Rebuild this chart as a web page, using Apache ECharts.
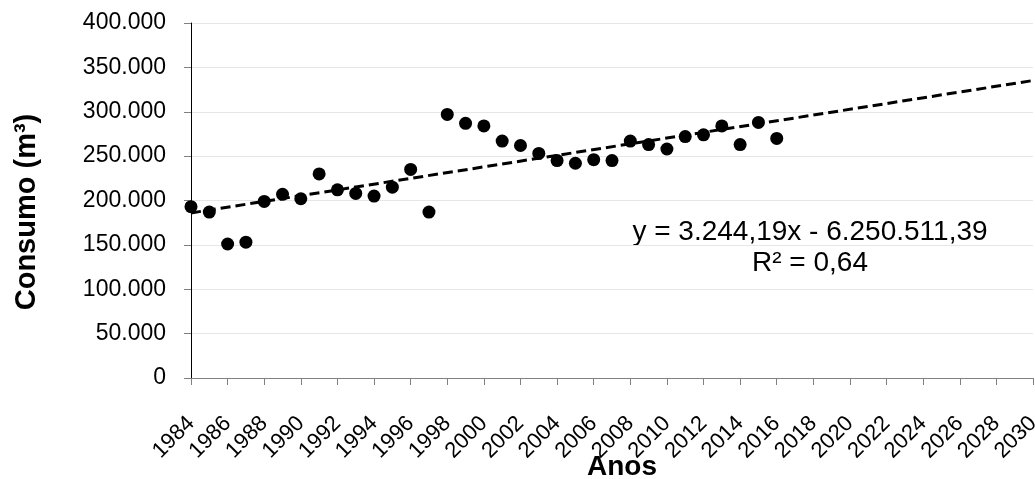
<!DOCTYPE html>
<html>
<head>
<meta charset="utf-8">
<script src="https://cdn.jsdelivr.net/npm/echarts@6/dist/echarts.min.js"></script>
<style>
  html, body { margin: 0; padding: 0; background: #fff; }
  #chart { width: 1035px; height: 479px; }
</style>
</head>
<body>
<div id="chart"></div>
<script>
// anos e consumo (m³)
var anos = [1984, 1985, 1986, 1987, 1988, 1989, 1990, 1991, 1992, 1993, 1994,
  1995, 1996, 1997, 1998, 1999, 2000, 2001, 2002, 2003, 2004, 2005, 2006,
  2007, 2008, 2009, 2010, 2011, 2012, 2013, 2014, 2015, 2016];
var consumo = [193000, 187000, 151000, 153000, 199000, 207000, 202000, 230000,
  212000, 208000, 205000, 215000, 235000, 187000, 297000, 287000, 284000,
  267000, 262000, 253000, 245000, 242000, 246000, 245000, 267000, 263000,
  258000, 272000, 274000, 284000, 263000, 288000, 270000];
// linha de tendência (extremos)
var tendenciaAnos = [1984, 2030];
var tendenciaValores = [186000, 335200];
var equacao = 'y = 3.244,19x - 6.250.511,39';
var r2 = 'R² = 0,64';

var pontos = anos.map(function (a, i) { return [a, consumo[i]]; });
var tendencia = tendenciaAnos.map(function (a, i) { return [a, tendenciaValores[i]]; });

var fonte = 'Liberation Sans, Arial, sans-serif';

function fmt(v) {
  return String(v).replace(/\B(?=(\d{3})+(?!\d))/g, '.');
}

var myChart = echarts.init(document.getElementById('chart'));
myChart.setOption({
  animation: false,
  textStyle: { fontFamily: fonte },
  grid: { left: 191, right: 2, top: 23, bottom: 101, containLabel: false, outerBoundsMode: 'none' },
  xAxis: {
    type: 'value',
    min: 1984,
    max: 2030,
    interval: 2,
    axisLine: { lineStyle: { color: '#808080', width: 1 } },
    axisTick: { show: true, length: 7, lineStyle: { color: '#808080' } },
    axisLabel: {
      rotate: 45, fontSize: 22, color: '#000', margin: 42,
      formatter: function (v) { return String(v); }
    },
    splitLine: { show: false }
  },
  yAxis: {
    type: 'value',
    min: 0,
    max: 400000,
    interval: 50000,
    axisLine: { show: true, lineStyle: { color: '#000', width: 1 } },
    axisTick: { show: true, length: 7, lineStyle: { color: '#808080' } },
    axisLabel: { fontSize: 23, color: '#000', margin: 25, formatter: fmt },
    splitLine: { show: true, lineStyle: { color: '#e6e6e6', width: 1 } }
  },
  series: [
    {
      type: 'line',
      data: tendencia,
      symbol: 'none',
      lineStyle: { color: '#000', width: 3, type: [10, 5] },
      z: 2
    },
    {
      type: 'scatter',
      data: pontos,
      symbolSize: 13,
      itemStyle: { color: '#000', opacity: 1 },
      z: 3
    }
  ],
  graphic: [
    {
      type: 'text', x: 810, y: 232,
      style: { text: equacao, fontSize: 28, fill: '#000', fontFamily: fonte, align: 'center', verticalAlign: 'middle' }
    },
    {
      type: 'text', x: 810, y: 263,
      style: { text: r2, fontSize: 28, fill: '#000', fontFamily: fonte, align: 'center', verticalAlign: 'middle' }
    },
    {
      type: 'text', x: 622, y: 467,
      style: { text: 'Anos', fontSize: 28, fontWeight: 'bold', fill: '#000', fontFamily: fonte, align: 'center', verticalAlign: 'middle' }
    },
    {
      type: 'text', x: 27, y: 212, rotation: Math.PI / 2,
      style: { text: 'Consumo (m³)', fontSize: 29, fontWeight: 'bold', fill: '#000', fontFamily: fonte, align: 'center', verticalAlign: 'middle' }
    }
  ]
});
</script>
</body>
</html>
